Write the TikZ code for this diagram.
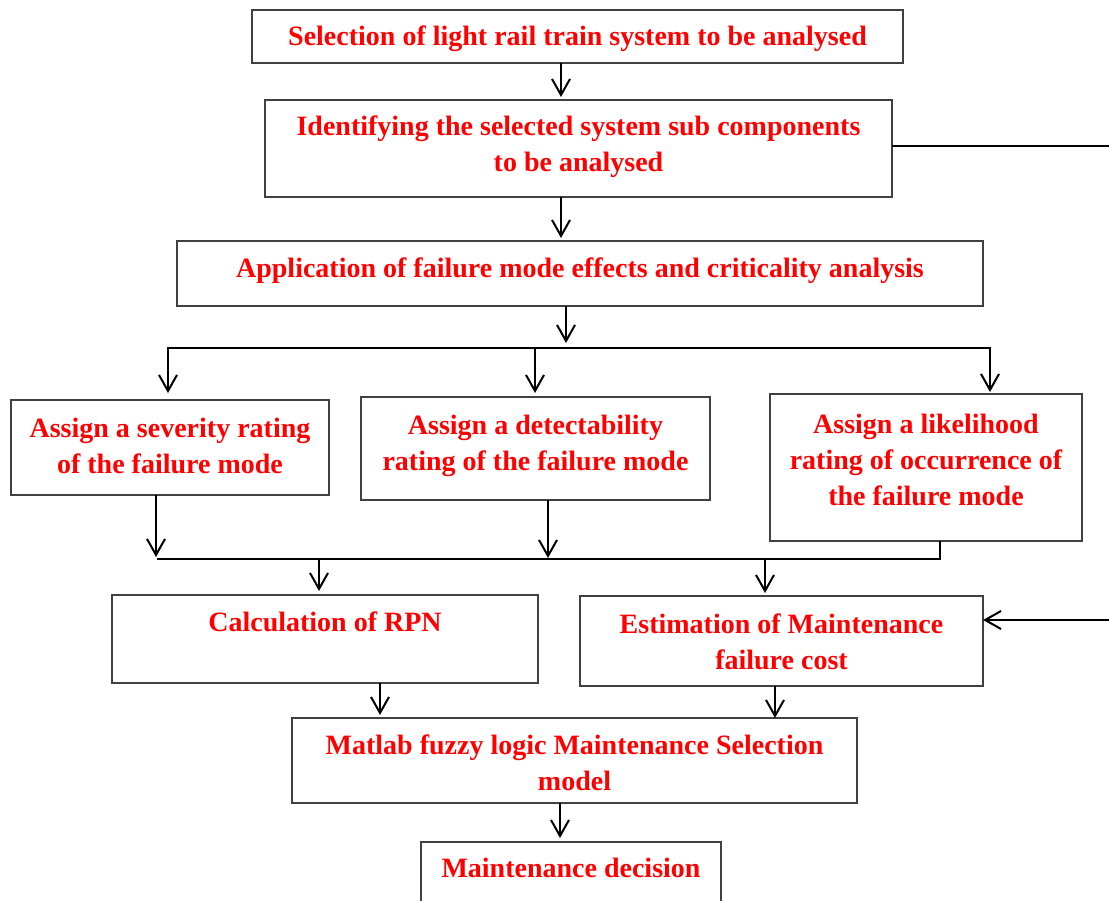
\documentclass[tikz,border=0pt]{standalone}
\usepackage{fontspec}
\setmainfont{Liberation Serif}
\usetikzlibrary{arrows.meta}
\tikzset{
  box/.style={draw=black!75, line width=1.5pt, inner sep=0pt, outer sep=0pt},
  lbl/.style={text=red, font=\fontsize{28}{36}\selectfont\bfseries, align=center, inner sep=0pt, anchor=base},
  conn/.style={draw=black, line width=2pt},
  arr/.style={conn, -{Straight Barb[length=16pt, width=18pt, line width=2pt]}}
}
\begin{document}
\begin{tikzpicture}[x=1pt, y=-1pt]
\useasboundingbox (0,0) rectangle (1109,901);
\clip (0,0) rectangle (1109,901);
\fill[white] (0,0) rectangle (1109,901);

% process boxes
\node[box, minimum width=651pt, minimum height=53pt] (b1) at (577.5,36.5) {};
\node[box, minimum width=627pt, minimum height=97pt] (b2) at (578.5,148.5) {};
\node[box, minimum width=806pt, minimum height=65pt] (b3) at (580,273.5) {};
\node[box, minimum width=318pt, minimum height=95pt] (b4) at (170,447.5) {};
\node[box, minimum width=349pt, minimum height=103pt] (b5) at (535.5,448.5) {};
\node[box, minimum width=312pt, minimum height=147pt] (b6) at (926,467.5) {};
\node[box, minimum width=426pt, minimum height=88pt] (b7) at (325,639) {};
\node[box, minimum width=403pt, minimum height=90pt] (b8) at (781.5,641) {};
\node[box, minimum width=565pt, minimum height=85pt] (b9) at (574.5,760.5) {};
\node[box, minimum width=300pt, minimum height=98pt] (b10) at (571,891) {};

% box texts (anchored on the baseline of the last line)
\node[lbl] (t1) at (577.5,46) {Selection of light rail train system to be analysed};
\node[lbl] (t2) at (578.5,172) {Identifying the selected system sub components\\to be analysed};
\node[lbl] (t3) at (580,278) {Application of failure mode effects and criticality analysis};
\node[lbl] (t4) at (170,473) {Assign a severity rating\\of the failure mode};
\node[lbl] (t5) at (535.5,470) {Assign a detectability\\rating of the failure mode};
\node[lbl] (t6) at (926,505) {Assign a likelihood\\rating of occurrence of\\the failure mode};
\node[lbl] (t7) at (325,631) {Calculation of RPN};
\node[lbl] (t8) at (781.5,669) {Estimation of Maintenance\\failure cost};
\node[lbl] (t9) at (574.5,790) {Matlab fuzzy logic Maintenance Selection\\model};
\node[lbl] (t10) at (571,877) {Maintenance decision};

% junction points
\coordinate (s1L) at (168,348);
\coordinate (s1R) at (990,348);
\coordinate (s2L) at (157,559);
\coordinate (s2R) at (940,559);
\coordinate (rtop) at (1112,146);
\coordinate (rbot) at (1112,620);

% top chain
\draw[arr] (561,0 |- b1.south) -- (561,97);
\draw[arr] (561,0 |- b2.south) -- (561,238);
\draw[arr] (566,0 |- b3.south) -- (566,343);

% fan-out to the three rating boxes
\draw[arr] (s1R) -- (s1L) -- (168,393);
\draw[arr] (s1L) -- (s1R) -- (990,392);
\draw[arr] (535,348) -- (535,393);

% fan-in from the rating boxes
\draw[conn] (940,0 |- b6.south) -- (s2R) -- (s2L);
\draw[arr] (156,0 |- b4.south) -- (156,557);
\draw[arr] (548,0 |- b5.south) -- (548,558);
\draw[arr] (319,559) -- (319,591);
\draw[arr] (765,559) -- (765,593);

% to the fuzzy model and decision
\draw[arr] (380,0 |- b7.south) -- (380,715);
\draw[arr] (775,0 |- b8.south) -- (775,718);
\draw[arr] (560,0 |- b9.south) -- (560,838);

% side link from the sub-component box to the cost estimate
\draw[conn] (b2.east |- rtop) -- (rtop);
\draw[arr] (rbot) -- (b8.east |- rbot);
\end{tikzpicture}
\end{document}
